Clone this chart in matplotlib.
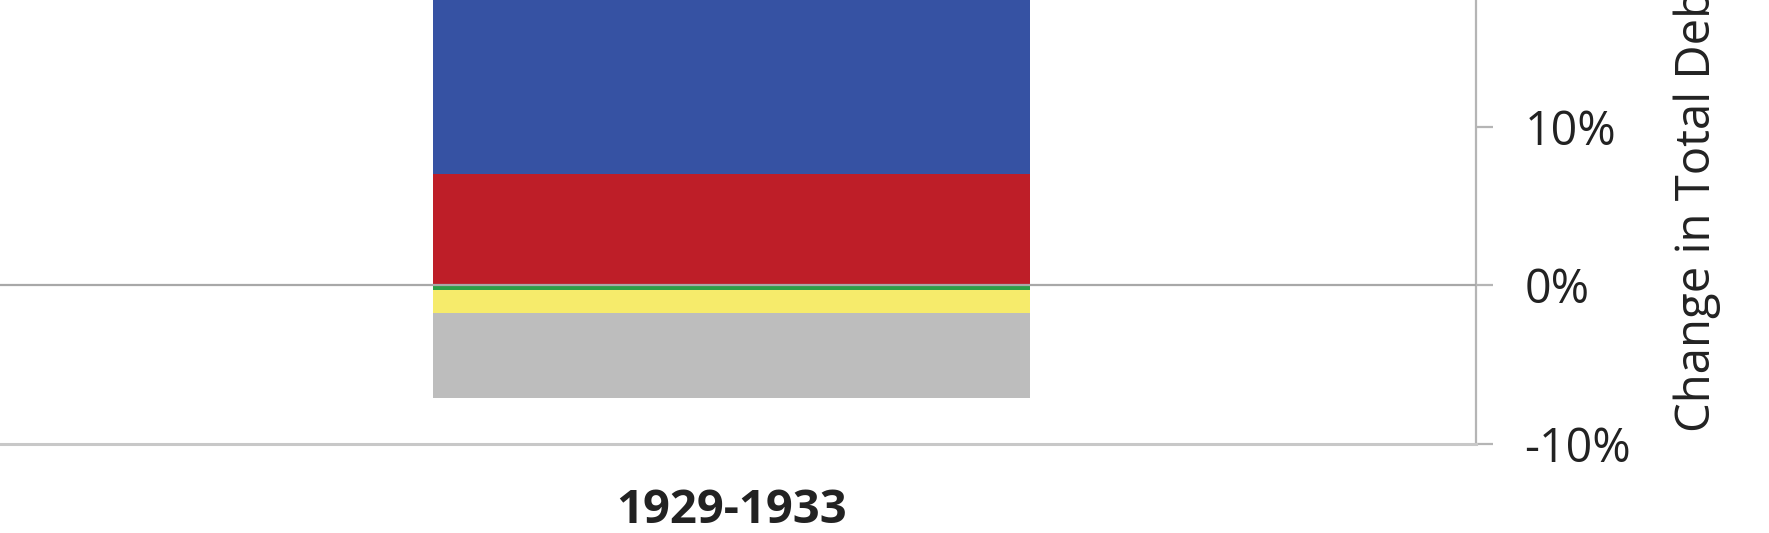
import matplotlib
matplotlib.use("Agg")
import matplotlib.pyplot as plt
from matplotlib.ticker import FuncFormatter

plt.rcParams['font.family'] = ['Open Sans', 'DejaVu Sans']

categories = ["1929-1933"]
positive_values = {"Red": 7.0, "Blue": 13.0}
negative_values = {"Green": -0.3, "Yellow": -1.45, "Gray": -5.4}
colors = {"Blue": "#3652A3", "Red": "#BE1E28", "Green": "#2E9E48",
          "Yellow": "#F6EB6B", "Gray": "#BDBDBD"}
ytick_values = [-10, 0, 10]
axis_label = "Change in Total Debt/GDP"

W, H = 1769, 533
fig = plt.figure(figsize=(W / 100, H / 100), dpi=100)

ax_right_px = 1476
ax_bottom_px = 443.5
ax = fig.add_axes([0, (H - ax_bottom_px) / H, ax_right_px / W, ax_bottom_px / H])

bar_w = 0.8
pos_base = 0.0
for name in ["Red", "Blue"]:
    v = positive_values[name]
    ax.bar(0, v, bottom=pos_base, width=bar_w, color=colors[name], linewidth=0, zorder=3)
    pos_base += v
neg_base = 0.0
for name in ["Green", "Yellow", "Gray"]:
    v = negative_values[name]
    ax.bar(0, v, bottom=neg_base, width=bar_w, color=colors[name], linewidth=0, zorder=3)
    neg_base += v

center_px = 731.5
bar_px = 597
ppu = bar_px / bar_w
ax.set_xlim(-center_px / ppu, (ax_right_px - center_px) / ppu)

zero_px = 285
pct_px = (ax_bottom_px - zero_px) / 10
ax.set_ylim(-10, zero_px / pct_px)

ax.axhline(0, color="#A8A8A8", linewidth=1.6, zorder=4)

for s in ["left", "top"]:
    ax.spines[s].set_visible(False)
ax.spines["right"].set_color("#B5B5B5")
ax.spines["right"].set_linewidth(1.6)
ax.spines["bottom"].set_color("#C8C8C8")
ax.spines["bottom"].set_linewidth(2.2)

ax.yaxis.tick_right()
ax.set_yticks(ytick_values)
ax.yaxis.set_major_formatter(FuncFormatter(lambda v, p: f"{v:.0f}%"))
ax.tick_params(axis="y", which="both", direction="out", length=12, width=1.6,
               color="#B5B5B5", labelsize=33.5, pad=23, labelcolor="#222222")

ax.set_xticks([0])
ax.set_xticklabels(categories, fontsize=34, fontweight="bold", color="#222222")
ax.tick_params(axis="x", length=0, pad=31)

fig.text(1697 / W, (H - 432) / H, axis_label, rotation=90, ha="center", va="bottom",
         fontsize=34, color="#222222")

fig.savefig("out.png", dpi=100)
